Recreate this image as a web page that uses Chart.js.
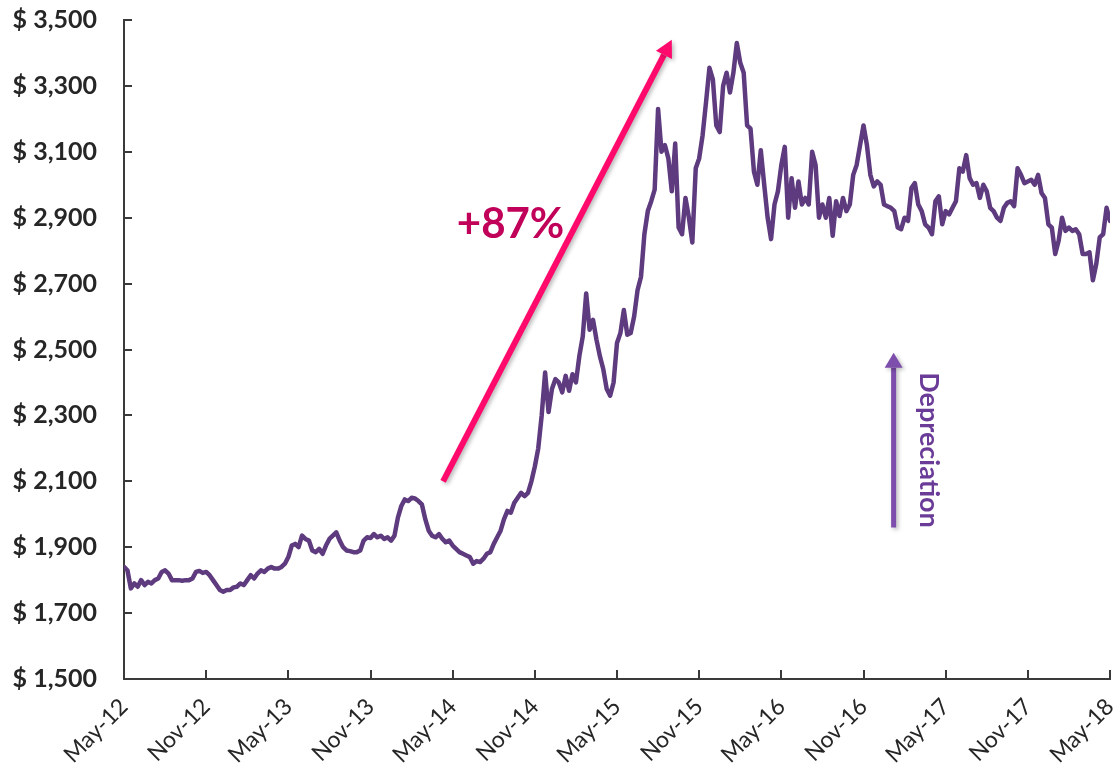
<!DOCTYPE html>
<html><head><meta charset="utf-8">
<script src="https://cdn.jsdelivr.net/npm/chart.js@4/dist/chart.umd.min.js"></script>
<style>html,body{margin:0;padding:0;background:#fff}#wrap{width:1117px;height:774px;position:relative}</style>
</head><body><div id="wrap"><canvas id="c" width="1117" height="774"></canvas></div>
<script>
// Month-tick labels (every 6 months, x = months since May-12)
const tickLabels = ['May-12','Nov-12','May-13','Nov-13','May-14','Nov-14','May-15','Nov-15','May-16','Nov-16','May-17','Nov-17','May-18'];
// Weekly-ish samples (4 per month) of the exchange rate
const rate = [
1840,1830,1775,1790,1780,1800,1785,1795,1790,1800,1805,1825,1830,1820,1800,1800,1800,1798,1800,1800,1805,1825,1828,1822,
1825,1815,1800,1785,1770,1765,1770,1770,1778,1780,1790,1785,1800,1815,1805,1820,1830,1825,1835,1840,1835,1835,1840,1850,
1870,1905,1910,1900,1935,1925,1920,1890,1885,1895,1880,1905,1925,1935,1945,1920,1900,1890,1888,1885,1885,1890,1920,1930,
1928,1940,1930,1935,1925,1930,1920,1935,1990,2025,2045,2040,2050,2048,2040,2030,1985,1950,1935,1930,1940,1925,1915,1920,
1905,1895,1885,1880,1875,1870,1850,1858,1855,1865,1880,1885,1910,1930,1950,1985,2010,2005,2035,2050,2065,2055,2065,2100,
2145,2200,2300,2430,2310,2380,2410,2400,2370,2420,2375,2425,2400,2480,2540,2670,2560,2590,2530,2480,2440,2380,2360,2400,
2520,2550,2620,2545,2550,2600,2680,2720,2850,2920,2950,2985,3230,3100,3120,3080,2980,3125,2870,2850,2960,2900,2825,3050,
3080,3150,3250,3355,3320,3180,3160,3300,3340,3280,3340,3430,3370,3340,3180,3170,3040,3000,3105,3000,2900,2835,2940,2980,
3060,3115,2900,3020,2930,3010,2940,2960,2940,3100,3060,2900,2940,2900,2960,2845,2950,2905,2960,2920,2940,3030,3060,3120,
3180,3120,3030,2995,3010,3000,2940,2935,2930,2920,2870,2865,2900,2890,2990,3005,2940,2920,2880,2870,2850,2950,2965,2880,
2920,2910,2930,2950,3050,3040,3090,3020,3000,3005,2960,3000,2980,2930,2920,2900,2890,2930,2945,2950,2935,3050,3030,3005,
3010,3015,3000,3030,2975,2960,2880,2870,2790,2830,2900,2860,2870,2860,2865,2850,2790,2790,2795,2710,2760,2840,2850,2930,
2890
];
const samplesPerMonth = 4;
const yMin = 1500, yMax = 3500, yStep = 200;

// Annotations anchored in data space [months, value]
const gainArrowFrom = [23.3, 2100];
const gainArrowTo = [40.0, 3440];
const gainLabel = '+87%';
const gainLabelAt = [24.3, 2880];
const deprArrowFrom = [56.2, 1960];
const deprArrowTo = [56.2, 2490];
const deprLabel = 'Depreciation';
const deprLabelAt = [58.75, 2195];

const FONT = 'Lato, "Open Sans", sans-serif';

function arrow(ctx, x1, y1, x2, y2, color, w, headLen, headW) {
  const a = Math.atan2(y2 - y1, x2 - x1);
  const bx = x2 - headLen * Math.cos(a), by = y2 - headLen * Math.sin(a);
  ctx.strokeStyle = color; ctx.fillStyle = color; ctx.lineWidth = w; ctx.lineCap = 'butt';
  ctx.beginPath(); ctx.moveTo(x1, y1); ctx.lineTo(bx, by); ctx.stroke();
  ctx.beginPath();
  ctx.moveTo(x2, y2);
  ctx.lineTo(bx + headW * Math.sin(a), by - headW * Math.cos(a));
  ctx.lineTo(bx - headW * Math.sin(a), by + headW * Math.cos(a));
  ctx.closePath(); ctx.fill();
}

const extras = {
  id: 'extras',
  afterDraw(chart) {
    const ctx = chart.ctx, xs = chart.scales.x, ys = chart.scales.y, ca = chart.chartArea;
    ctx.save();
    // inward tick marks
    ctx.strokeStyle = '#3a3a3a'; ctx.lineWidth = 2;
    ys.ticks.forEach(t => { const p = Math.round(ys.getPixelForValue(t.value)); ctx.beginPath(); ctx.moveTo(ca.left, p); ctx.lineTo(ca.left + 8, p); ctx.stroke(); });
    xs.ticks.forEach(t => { const p = Math.round(xs.getPixelForValue(t.value)); ctx.beginPath(); ctx.moveTo(p, ca.bottom); ctx.lineTo(p, ca.bottom - 9); ctx.stroke(); });
    // arrows
    ctx.shadowColor = 'rgba(0,0,0,0.28)'; ctx.shadowBlur = 4; ctx.shadowOffsetX = 2; ctx.shadowOffsetY = 2;
    arrow(ctx, xs.getPixelForValue(gainArrowFrom[0]), ys.getPixelForValue(gainArrowFrom[1]),
      xs.getPixelForValue(gainArrowTo[0]), ys.getPixelForValue(gainArrowTo[1]), '#FF0A6C', 6, 17, 9);
    arrow(ctx, xs.getPixelForValue(deprArrowFrom[0]), ys.getPixelForValue(deprArrowFrom[1]),
      xs.getPixelForValue(deprArrowTo[0]), ys.getPixelForValue(deprArrowTo[1]), '#7E4EAD', 5, 15, 9);
    ctx.shadowColor = 'transparent';
    // labels
    ctx.fillStyle = '#C1005A'; ctx.font = 'bold 42px ' + FONT; ctx.textAlign = 'left'; ctx.textBaseline = 'middle';
    ctx.fillText(gainLabel, xs.getPixelForValue(gainLabelAt[0]), ys.getPixelForValue(gainLabelAt[1]));
    ctx.translate(xs.getPixelForValue(deprLabelAt[0]), ys.getPixelForValue(deprLabelAt[1]));
    ctx.rotate(Math.PI / 2);
    ctx.fillStyle = '#6A3C98'; ctx.font = 'bold 27px ' + FONT; ctx.textAlign = 'center';
    ctx.fillText(deprLabel, 0, 0);
    ctx.restore();
  }
};

new Chart(document.getElementById('c'), {
  type: 'line',
  data: {
    datasets: [{
      data: rate.map((v, i) => ({ x: i / samplesPerMonth, y: v })),
      borderColor: '#5E3A7E', borderWidth: 4.5, pointRadius: 0, tension: 0, fill: false,
      borderJoinStyle: 'round', borderCapStyle: 'round'
    }]
  },
  options: {
    responsive: false, animation: false,
    layout: { padding: { top: 20, right: 7, left: 0, bottom: 0 } },
    plugins: { legend: { display: false }, tooltip: { enabled: false } },
    scales: {
      x: {
        type: 'linear', min: 0, max: 72,
        ticks: { stepSize: 6, autoSkip: false, maxRotation: 45, minRotation: 45, padding: 14,
          color: '#262626', font: { family: FONT, size: 23 },
          callback: v => tickLabels[Math.round(v / 6)] },
        grid: { display: true, drawOnChartArea: false, drawTicks: false },
        border: { display: true, color: '#3a3a3a', width: 2 },
        afterFit: s => { s.height = 95; s.paddingLeft = 0; s.paddingRight = 0; }
      },
      y: {
        min: yMin, max: yMax,
        ticks: { stepSize: yStep, padding: 27, color: '#262626', font: { family: FONT, size: 25, weight: 'bold' },
          callback: v => '$ ' + v.toLocaleString('en-US') },
        grid: { display: true, drawOnChartArea: false, drawTicks: false },
        border: { display: true, color: '#3a3a3a', width: 2 },
        afterFit: s => { s.width = 124; s.paddingTop = 0; s.paddingBottom = 0; }
      }
    }
  },
  plugins: [extras]
});
</script></body></html>
